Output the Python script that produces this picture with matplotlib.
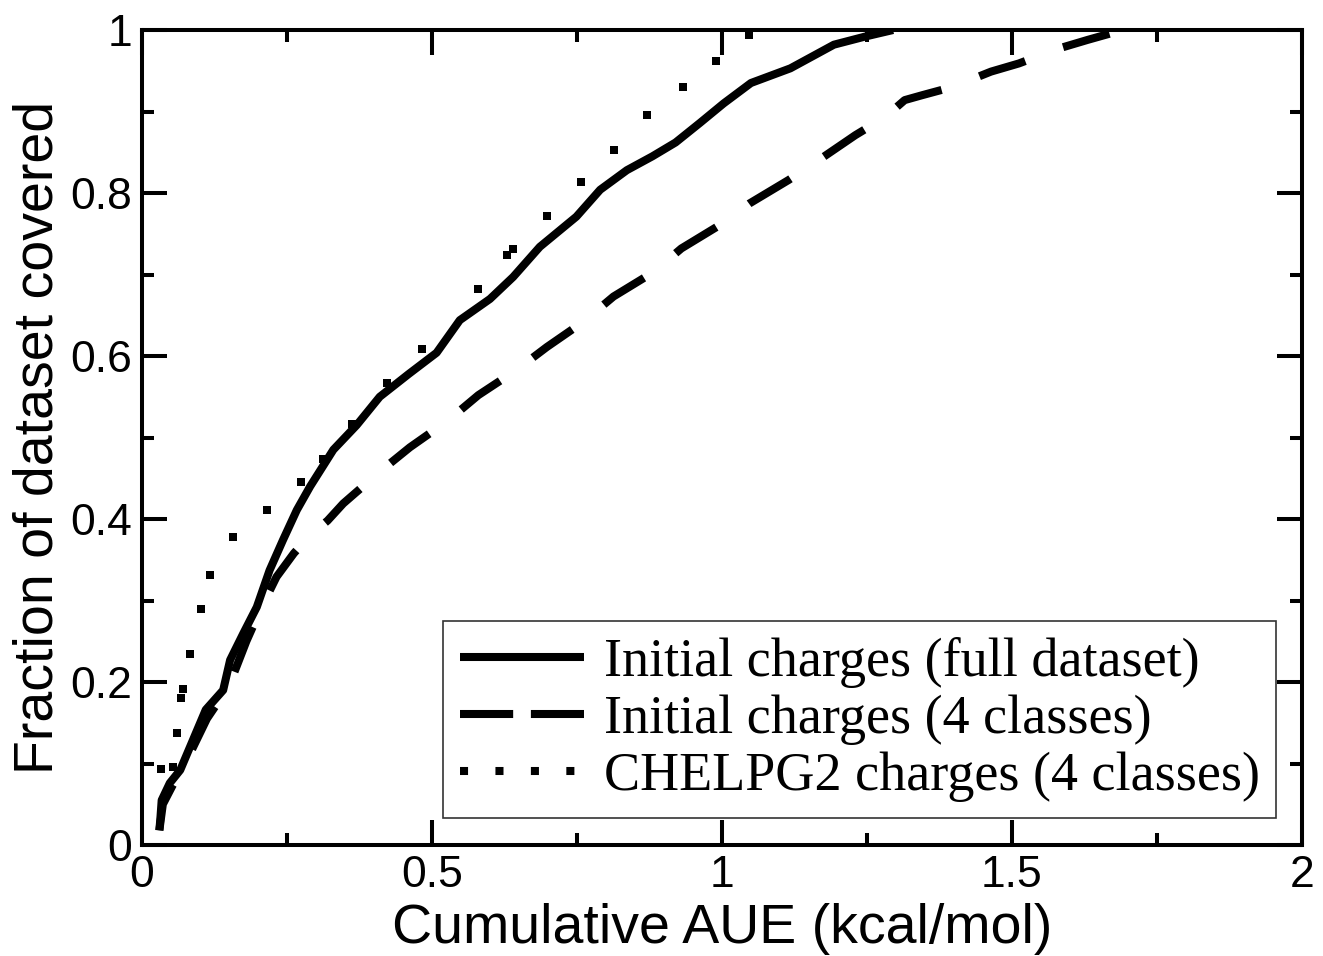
import matplotlib.pyplot as plt
from matplotlib.lines import Line2D
from matplotlib.ticker import MultipleLocator

# Initial charges, full dataset (solid)
full_x = [0.030, 0.032, 0.034, 0.048, 0.066, 0.088, 0.110, 0.140, 0.152, 0.175, 0.198,
          0.220, 0.243, 0.267, 0.290, 0.330, 0.370, 0.410, 0.460, 0.508, 0.548, 0.600,
          0.640, 0.686, 0.749, 0.790, 0.836, 0.880, 0.920, 0.962, 1.003, 1.050, 1.118,
          1.193, 1.247, 1.295]
full_y = [0.018, 0.035, 0.055, 0.076, 0.092, 0.129, 0.166, 0.190, 0.227, 0.260, 0.292,
          0.337, 0.374, 0.411, 0.440, 0.485, 0.515, 0.550, 0.578, 0.604, 0.644, 0.670,
          0.697, 0.734, 0.771, 0.804, 0.828, 0.845, 0.862, 0.886, 0.910, 0.935, 0.953,
          0.982, 0.992, 1.000]

# Initial charges, 4 classes (dashed)
cls_x = [0.030, 0.036, 0.052, 0.080, 0.112, 0.150, 0.180, 0.205, 0.232, 0.262, 0.290,
         0.320, 0.347, 0.410, 0.462, 0.528, 0.580, 0.646, 0.698, 0.761, 0.813, 0.882,
         0.930, 0.997, 1.047, 1.115, 1.162, 1.230, 1.281, 1.315, 1.345, 1.397, 1.464,
         1.512, 1.579, 1.631, 1.691]
cls_y = [0.018, 0.050, 0.072, 0.108, 0.155, 0.195, 0.250, 0.290, 0.329, 0.358, 0.380,
         0.398, 0.419, 0.458, 0.488, 0.521, 0.552, 0.583, 0.611, 0.642, 0.673, 0.703,
         0.732, 0.761, 0.787, 0.816, 0.838, 0.871, 0.893, 0.914, 0.920, 0.930, 0.949,
         0.959, 0.977, 0.988, 1.000]

# CHELPG2 charges, 4 classes (dotted)
chelpg_x = [0.033, 0.054, 0.061, 0.067, 0.071, 0.083, 0.102, 0.117, 0.157, 0.216, 0.275,
            0.313, 0.362, 0.423, 0.483, 0.579, 0.630, 0.639, 0.698, 0.757, 0.814, 0.871,
            0.933, 0.989, 1.047]
chelpg_y = [0.093, 0.096, 0.138, 0.180, 0.192, 0.234, 0.290, 0.331, 0.378, 0.411, 0.446,
            0.474, 0.517, 0.567, 0.608, 0.682, 0.724, 0.731, 0.772, 0.813, 0.853, 0.896,
            0.930, 0.962, 0.994]

labels = ["Initial charges (full dataset)", "Initial charges (4 classes)",
          "CHELPG2 charges (4 classes)"]

plt.rcParams["font.family"] = ["Liberation Sans", "DejaVu Sans"]

fig = plt.figure(figsize=(13.23, 9.56), dpi=100)
ax = fig.add_axes([0.1073, 0.1161, 0.8768, 0.8525])

lw = 5.8
ax.plot(full_x, full_y, color="black", lw=lw, solid_capstyle="butt")
ax.plot(cls_x, cls_y, color="black", lw=lw, dashes=(6, 5), dash_capstyle="butt")
ax.plot(chelpg_x, chelpg_y, "s", color="black", ms=5.6, mew=0)

ax.set_xlim(0, 2)
ax.set_ylim(0, 1)
ax.xaxis.set_major_locator(MultipleLocator(0.5))
ax.xaxis.set_minor_locator(MultipleLocator(0.25))
ax.yaxis.set_major_locator(MultipleLocator(0.2))
ax.yaxis.set_minor_locator(MultipleLocator(0.1))
ax.xaxis.set_major_formatter(plt.FuncFormatter(lambda v, p: f"{v:g}"))
ax.yaxis.set_major_formatter(plt.FuncFormatter(lambda v, p: f"{v:g}"))

for s in ax.spines.values():
    s.set_linewidth(2.9)
ax.tick_params(which="both", direction="in", top=True, right=True, width=2.9,
               labelsize=32, pad=7)
ax.tick_params(which="major", length=18)
ax.tick_params(which="minor", length=8.6)

ax.set_xlabel("Cumulative AUE (kcal/mol)", fontsize=40, labelpad=5)
ax.set_ylabel("Fraction of dataset covered", fontsize=40, labelpad=4)

handles = [
    Line2D([], [], color="black", lw=lw, solid_capstyle="butt"),
    Line2D([], [], color="black", lw=lw, dashes=(6.6, 2.2), dash_capstyle="butt"),
    Line2D([], [], color="black", lw=lw, dashes=(1, 3.4), dash_capstyle="butt"),
]
leg = ax.legend(handles, labels, loc="lower right", bbox_to_anchor=(0.978, 0.033),
                prop={"family": "Liberation Serif", "size": 39}, frameon=True,
                fancybox=False, edgecolor="black", handlelength=2.3,
                handletextpad=0.37, borderpad=0.3, labelspacing=0.12,
                borderaxespad=0)
leg.get_frame().set_linewidth(1.2)

fig.savefig("out.png", dpi=100)
